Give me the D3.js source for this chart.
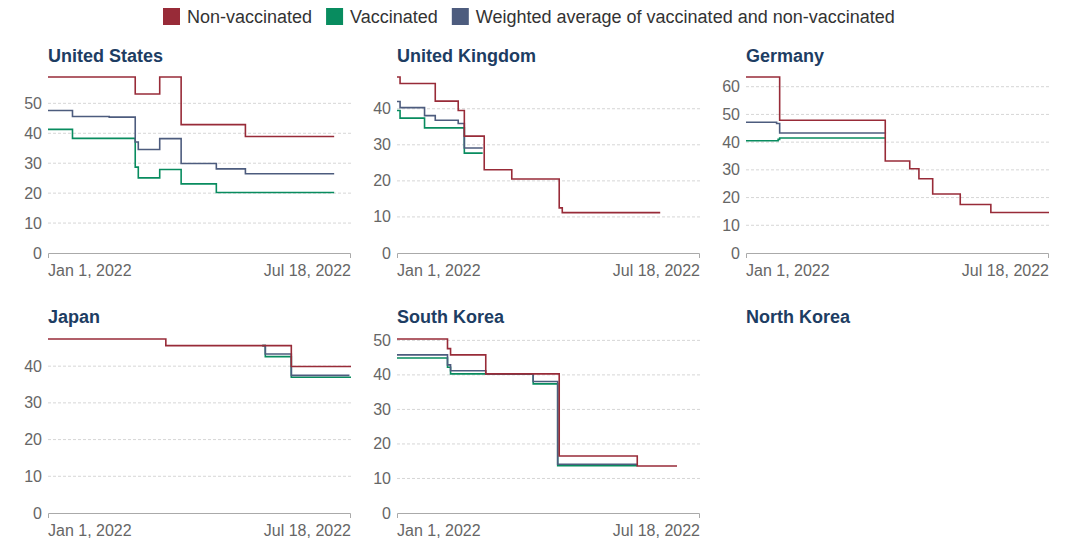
<!DOCTYPE html>
<html><head><meta charset="utf-8">
<script src="https://cdn.jsdelivr.net/npm/d3@7"></script>
<style>
body{margin:0;background:#fff;}
svg{display:block;font-family:"Liberation Sans",Arial,sans-serif;}
</style></head>
<body><svg id="chart" width="1066" height="539"></svg>
<script>
// ---- data ----
const seriesNames = ["Non-vaccinated", "Vaccinated", "Weighted average of vaccinated and non-vaccinated"];
const seriesColors = ["#982b38", "#088c5f", "#4d5c7e"];
const countries = ["United States", "United Kingdom", "Germany", "Japan", "South Korea", "North Korea"];
const xTickLabels = ["Jan 1, 2022", "Jul 18, 2022"];
const xDomain = ["2022-01-01", "2022-07-18"];

// step change points [date, value]; last point marks where the series ends
const usNonVax = [["2022-01-01",58.8],["2022-02-27",53.1],["2022-03-15",58.8],["2022-03-29",42.9],["2022-05-10",38.9],["2022-07-07",38.9]];
const usVax    = [["2022-01-01",41.3],["2022-01-17",38.3],["2022-02-27",28.7],["2022-03-01",25.1],["2022-03-15",27.9],["2022-03-29",23.1],["2022-04-21",20.2],["2022-07-07",20.2]];
const usAvg    = [["2022-01-01",47.6],["2022-01-17",45.6],["2022-02-10",45.4],["2022-02-27",37.1],["2022-03-01",34.6],["2022-03-15",38.2],["2022-03-29",29.9],["2022-04-21",28.1],["2022-05-10",26.5],["2022-07-07",26.5]];

const ukNonVax = [["2022-01-01",48.8],["2022-01-03",47.0],["2022-01-26",42.1],["2022-02-10",39.5],["2022-02-14",32.4],["2022-02-27",23.1],["2022-03-17",20.5],["2022-04-17",12.5],["2022-04-19",11.2],["2022-06-22",11.2]];
const ukVax    = [["2022-01-01",39.5],["2022-01-03",37.4],["2022-01-19",34.7],["2022-02-14",27.7],["2022-02-26",27.7]];
const ukAvg    = [["2022-01-01",42.0],["2022-01-03",40.3],["2022-01-19",38.1],["2022-01-26",36.8],["2022-02-10",35.9],["2022-02-14",29.1],["2022-02-26",29.1]];

const deNonVax = [["2022-01-01",63.5],["2022-01-23",47.9],["2022-04-02",33.2],["2022-04-18",30.4],["2022-04-24",26.8],["2022-05-03",21.3],["2022-05-21",17.5],["2022-06-10",14.6],["2022-07-18",14.6]];
const deVax    = [["2022-01-01",40.5],["2022-01-22",41.0],["2022-01-23",41.5],["2022-04-02",41.5]];
const deAvg    = [["2022-01-01",47.2],["2022-01-21",46.7],["2022-01-23",43.3],["2022-04-02",43.0]];

const jpNonVax = [["2022-01-01",47.4],["2022-03-19",45.6],["2022-06-09",39.9],["2022-07-18",39.9]];
const jpVax    = [["2022-05-21",45.6],["2022-05-23",42.6],["2022-06-09",37.0],["2022-07-18",37.0]];
const jpAvg    = [["2022-05-21",45.6],["2022-05-23",43.3],["2022-06-09",37.5],["2022-07-17",37.5]];

const krNonVax = [["2022-01-01",50.4],["2022-02-03",47.6],["2022-02-05",45.8],["2022-02-28",40.3],["2022-04-17",16.5],["2022-06-07",13.6],["2022-07-03",13.6]];
const krVax    = [["2022-01-01",44.9],["2022-02-03",42.2],["2022-02-05",40.3],["2022-03-31",37.4],["2022-04-16",13.7],["2022-06-07",13.7]];
const krAvg    = [["2022-01-01",45.8],["2022-02-03",42.9],["2022-02-05",41.2],["2022-02-28",40.3],["2022-03-31",38.1],["2022-04-16",14.1],["2022-06-07",14.1]];

const kpNonVax = [];
const kpVax = [];
const kpAvg = [];

// ---- layout ----
const panelData = [
  [usNonVax, usVax, usAvg],
  [ukNonVax, ukVax, ukAvg],
  [deNonVax, deVax, deAvg],
  [jpNonVax, jpVax, jpAvg],
  [krNonVax, krVax, krAvg],
  [kpNonVax, kpVax, kpAvg]
];
const colLeft = [48, 397, 746];
const plotW = 303;
const rowTop = [77, 339];
const rowBottom = [253, 513];
const titleY = [62, 323];

const parse = d3.timeParse("%Y-%m-%d");
const svg = d3.select("#chart");

// legend
const legend = svg.append("g");
let lx = 0;
seriesNames.forEach((n, i) => {
  const g = legend.append("g").attr("transform", `translate(${lx},0)`);
  g.append("rect").attr("x", 0).attr("y", 8).attr("width", 17).attr("height", 17).attr("fill", seriesColors[i]);
  const t = g.append("text").attr("x", 24).attr("y", 23).attr("font-size", 18).attr("fill", "#333").text(n);
  lx += 24 + t.node().getComputedTextLength() + 14;
});
legend.attr("transform", `translate(163,0)`);

countries.forEach((name, i) => {
  const col = i % 3, row = Math.floor(i / 3);
  const x0 = colLeft[col];
  const g = svg.append("g");
  g.append("text").attr("x", x0).attr("y", titleY[row]).attr("font-size", 18).attr("font-weight", "bold")
    .attr("fill", "#1d3d63").text(name);
  const data = panelData[i];
  const all = data.flat();
  if (!all.length) return;
  const maxV = d3.max(all, d => d[1]);
  const x = d3.scaleTime().domain(xDomain.map(parse)).range([x0, x0 + plotW]);
  const y = d3.scaleLinear().domain([0, maxV]).range([rowBottom[row], rowTop[row]]);
  const ticks = d3.range(0, maxV, 10);
  // gridlines
  g.selectAll("line.grid").data(ticks.filter(t => t > 0)).join("line")
    .attr("x1", x0).attr("x2", x0 + plotW).attr("y1", d => y(d)).attr("y2", d => y(d))
    .attr("stroke", "#d6d6d6").attr("stroke-dasharray", "3,2");
  // y labels
  g.selectAll("text.yl").data(ticks).join("text")
    .attr("x", x0 - 6).attr("y", d => y(d) + 5.5).attr("text-anchor", "end")
    .attr("font-size", 16).attr("fill", "#666").text(d => d);
  // x axis
  const xb = rowBottom[row];
  g.append("path").attr("d", `M${x0 + 0.5},${xb + 5}V${xb + 0.5}H${x0 + plotW - 0.5}V${xb + 5}`)
    .attr("fill", "none").attr("stroke", "#aaa");
  g.append("text").attr("x", x0).attr("y", xb + 23).attr("font-size", 16).attr("fill", "#666").text(xTickLabels[0]);
  g.append("text").attr("x", x0 + plotW).attr("y", xb + 23).attr("text-anchor", "end").attr("font-size", 16).attr("fill", "#666").text(xTickLabels[1]);
  const line = d3.line().x(d => x(parse(d[0]))).y(d => y(d[1])).curve(d3.curveStepAfter);
  // draw order: vaccinated, weighted average, non-vaccinated on top
  [1, 2, 0].forEach(k => {
    if (!data[k].length) return;
    g.append("path").datum(data[k]).attr("d", line).attr("fill", "none")
      .attr("stroke", seriesColors[k]).attr("stroke-width", 1.6);
  });
});
</script></body></html>
